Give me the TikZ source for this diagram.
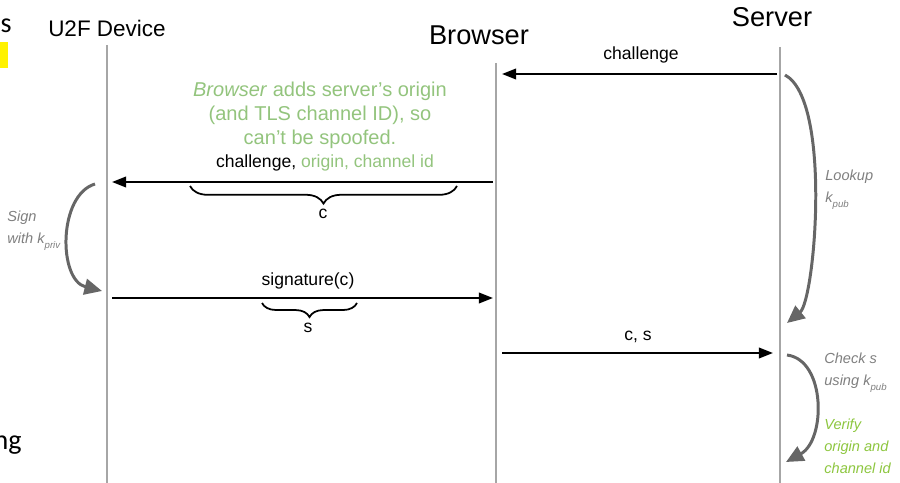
\documentclass[tikz,border=0pt]{standalone}
\usepackage{fontspec}
\setmainfont{Liberation Sans}
\newfontfamily\slidefont{Carlito}
\usetikzlibrary{arrows.meta,decorations.pathreplacing}

\definecolor{lifegray}{HTML}{A6A6A6}
\definecolor{notegray}{HTML}{7F7F7F}
\definecolor{curvegray}{HTML}{666666}
\definecolor{notegreen}{HTML}{93C47D}
\definecolor{checkgreen}{HTML}{8DC63F}

\newcommand{\lowsub}[1]{\raisebox{-0.7ex}{\fontsize{5.5}{6}\selectfont #1}}

\begin{document}
\begin{tikzpicture}[ x = 0.02cm, y = -0.02cm,
    lifeline/.style = {draw = lifegray, line width = 1.7pt},
    msg/.style = {draw, line width = 1.1pt, -{Triangle[length = 8pt, width = 6pt]}},
    selfcall/.style = {draw = curvegray, line width = 1.7pt, -{Triangle[length = 10pt, width = 9pt]}},
    actor/.style = {font = \fontsize{15.5}{18}\selectfont, inner sep = 0pt},
    msglabel/.style = {font = \fontsize{10}{12}\selectfont, inner sep = 0pt},
    sidenote/.style = {font = \fontsize{8.3}{12.5}\selectfont\itshape, text = notegray,
      align = left, anchor = west, inner sep = 0pt},
    cbrace/.style = {decorate, decoration = {brace, mirror, amplitude = 10pt}, line width = 1pt}
  ]
    \useasboundingbox (0,0) rectangle (900,483);

    % bits of the slide next to it
    \fill[yellow] (-20,42) rectangle (8,68);
    \node[anchor = base east, inner sep = 0pt, font = \slidefont\fontsize{16}{18}\selectfont] (prev-s) at (12,33) {s};
    \node[anchor = base east, inner sep = 0pt, font = \slidefont\fontsize{16}{18}\selectfont] (prev-ng) at (22,449) {ng};

    % actors
    \node[actor, font = \fontsize{12.8}{15}\selectfont] (u2f) at (107,28) {U2F Device};
    \node[actor] (browser) at (479,35) {Browser};
    \node[actor] (server) at (772,17) {Server};

    \coordinate (u2f-top) at (107,45);
    \coordinate (u2f-bot) at (107,483);
    \coordinate (br-top) at (496,63);
    \coordinate (br-bot) at (496,483);
    \coordinate (srv-top) at (780,47);
    \coordinate (srv-bot) at (780,483);

    \draw[lifeline] (u2f-top) -- (u2f-bot);
    \draw[lifeline] (br-top) -- (br-bot);
    \draw[lifeline] (srv-top) -- (srv-bot);

    % messages
    \coordinate (srv-1) at (777,74);
    \coordinate (br-1) at (502,74);
    \coordinate (br-2) at (493,182);
    \coordinate (u2f-2) at (112,182);
    \coordinate (u2f-3) at (112,298);
    \coordinate (br-3) at (493,298);
    \coordinate (br-4) at (502,353);
    \coordinate (srv-4) at (773,353);

    \draw[msg] (srv-1) -- (br-1);
    \draw[msg] (br-2) -- (u2f-2);
    \draw[msg] (u2f-3) -- (br-3);
    \draw[msg] (br-4) -- (srv-4);

    \node[msglabel] (l-chal) at (641,55) {challenge};
    \node[msglabel] (l-orig) at (325,163) {challenge, \textcolor{notegreen}{origin, channel id}};
    \node[msglabel] (l-sig) at (308,281) {signature(c)};
    \node[msglabel] (l-cs) at (638,337) {c, s};

    \node[font = \fontsize{11.4}{13.6}\selectfont, text = notegreen, align = center] (note) at (320,115)
      {\textit{Browser} adds server’s origin\\(and TLS channel ID), so\\can’t be spoofed.};

    % braces
    \coordinate (c-from) at (190,186);
    \coordinate (c-to) at (457,186);
    \draw[cbrace] (c-from) -- (c-to);
    \node[msglabel] (c) at (323,214) {c};
    \coordinate (s-from) at (262,303);
    \coordinate (s-to) at (357,303);
    \draw[cbrace, decoration = {amplitude = 8pt}] (s-from) -- (s-to);
    \node[msglabel] (s) at (308,328) {s};

    % local steps
    \coordinate (sign-a) at (95,184);
    \coordinate (sign-b) at (102,291);
    \draw[selfcall] (sign-a) .. controls (58,195) and (58,280) .. (sign-b);
    \node[sidenote] (sign) at (7,231) {Sign\\with \textit{k}\lowsub{priv}};

    \coordinate (look-a) at (785,75);
    \coordinate (look-b) at (787,323);
    \draw[selfcall] (look-a) .. controls (832,100) and (815,300) .. (look-b);
    \node[sidenote] (look) at (825,190) {Lookup\\\textit{k}\lowsub{pub}};

    \coordinate (check-a) at (787,355);
    \coordinate (check-b) at (786,462);
    \draw[selfcall] (check-a) .. controls (826,360) and (826,440) .. (check-b);
    \node[sidenote] (check) at (824,373) {Check s\\using \textit{k}\lowsub{pub}};
    \node[sidenote, text = checkgreen] (verify) at (824,446) {Verify\\origin and\\channel id};
\end{tikzpicture}
\end{document}
